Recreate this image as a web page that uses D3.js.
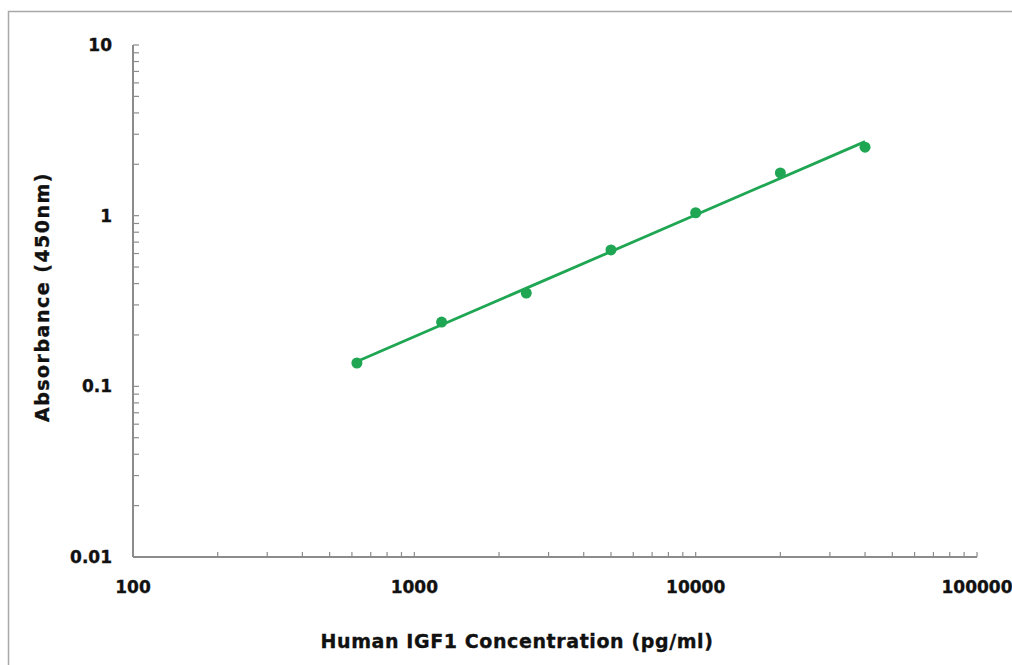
<!DOCTYPE html>
<html><head><meta charset="utf-8">
<script src="https://cdn.jsdelivr.net/npm/d3@7"></script>
<style>body{margin:0;background:#fff;} svg{display:block;} text{stroke:#111;stroke-width:0.35px;}</style>
</head><body>
<svg id="c" width="1012" height="665"></svg>
<script>
const concentrations = [625, 1250, 2500, 5000, 10000, 20000, 40000];
const absorbance = [0.137, 0.238, 0.352, 0.63, 1.04, 1.78, 2.52];
const xTickLabels = ["100", "1000", "10000", "100000"];
const yTickLabels = ["0.01", "0.1", "1", "10"];
const xTitle = "Human IGF1 Concentration (pg/ml)";
const yTitle = "Absorbance (450nm)";

const svg = d3.select("#c");
const green = "#1fa653";
const axisColor = "#8c8c8c";
const font = "'DejaVu Sans', Arial, sans-serif";

svg.append("rect").attr("x", 8.5).attr("y", 11.5).attr("width", 1010).attr("height", 660)
  .attr("fill", "none").attr("stroke", "#a8a8a8").attr("stroke-width", 1.5);

const x = d3.scaleLog().domain([100, 100000]).range([133, 977]);
const y = d3.scaleLog().domain([0.01, 10]).range([557, 45]);

// minor ticks
const xTicks = [];
for (let d = 100; d < 100000; d *= 10) for (let k = 1; k <= 9; k++) xTicks.push(d * k);
xTicks.push(100000);
const yTicks = [];
for (let d = 0.01; d < 10; d *= 10) for (let k = 1; k <= 9; k++) yTicks.push(+(d * k).toPrecision(3));
yTicks.push(10);

const g = svg.append("g");
g.selectAll("line.xt").data(xTicks).join("line")
  .attr("x1", d => x(d)).attr("x2", d => x(d)).attr("y1", 557).attr("y2", 552)
  .attr("stroke", axisColor).attr("stroke-width", 1.2);
g.selectAll("line.yt").data(yTicks).join("line")
  .attr("y1", d => y(d)).attr("y2", d => y(d)).attr("x1", 133).attr("x2", 139)
  .attr("stroke", axisColor).attr("stroke-width", 1.2);
g.append("line").attr("x1", 133).attr("x2", 977).attr("y1", 557).attr("y2", 557)
  .attr("stroke", axisColor).attr("stroke-width", 2);
g.append("line").attr("x1", 133).attr("x2", 133).attr("y1", 45).attr("y2", 557)
  .attr("stroke", axisColor).attr("stroke-width", 2);

// tick labels
g.selectAll("text.xl").data(xTickLabels).join("text")
  .attr("x", d => x(+d)).attr("y", 593).attr("text-anchor", "middle")
  .attr("font-family", font).attr("font-weight", "bold").attr("font-size", 17).attr("fill", "#111")
  .text(d => d);
g.selectAll("text.yl").data(yTickLabels).join("text")
  .attr("x", 112).attr("y", d => y(+d) + 6).attr("text-anchor", "end")
  .attr("font-family", font).attr("font-weight", "bold").attr("font-size", 17).attr("fill", "#111")
  .text(d => d);

// titles
svg.append("text").attr("x", 517).attr("y", 648).attr("text-anchor", "middle")
  .attr("font-family", font).attr("font-weight", "bold").attr("font-size", 19)
  .attr("letter-spacing", 0.6).attr("fill", "#111")
  .text(xTitle);
svg.append("text").attr("transform", "translate(49,297) rotate(-90)").attr("text-anchor", "middle")
  .attr("font-family", font).attr("font-weight", "bold").attr("font-size", 19)
  .attr("letter-spacing", 1.5).attr("fill", "#111")
  .text(yTitle);

// power trendline (least squares in log-log)
const lx = concentrations.map(Math.log10), ly = absorbance.map(Math.log10);
const n = lx.length, mx = d3.mean(lx), my = d3.mean(ly);
const b = d3.sum(lx.map((v, i) => (v - mx) * (ly[i] - my))) / d3.sum(lx.map(v => (v - mx) ** 2));
const a = my - b * mx;
const ends = [concentrations[0], concentrations[n - 1]];
svg.append("path").attr("d", d3.line().x(d => x(d)).y(d => y(Math.pow(10, a + b * Math.log10(d))))(ends))
  .attr("stroke", green).attr("stroke-width", 2.8).attr("fill", "none");

svg.selectAll("circle").data(concentrations).join("circle")
  .attr("cx", d => x(d)).attr("cy", (d, i) => y(absorbance[i])).attr("r", 5.5)
  .attr("fill", green);
</script>
</body></html>
